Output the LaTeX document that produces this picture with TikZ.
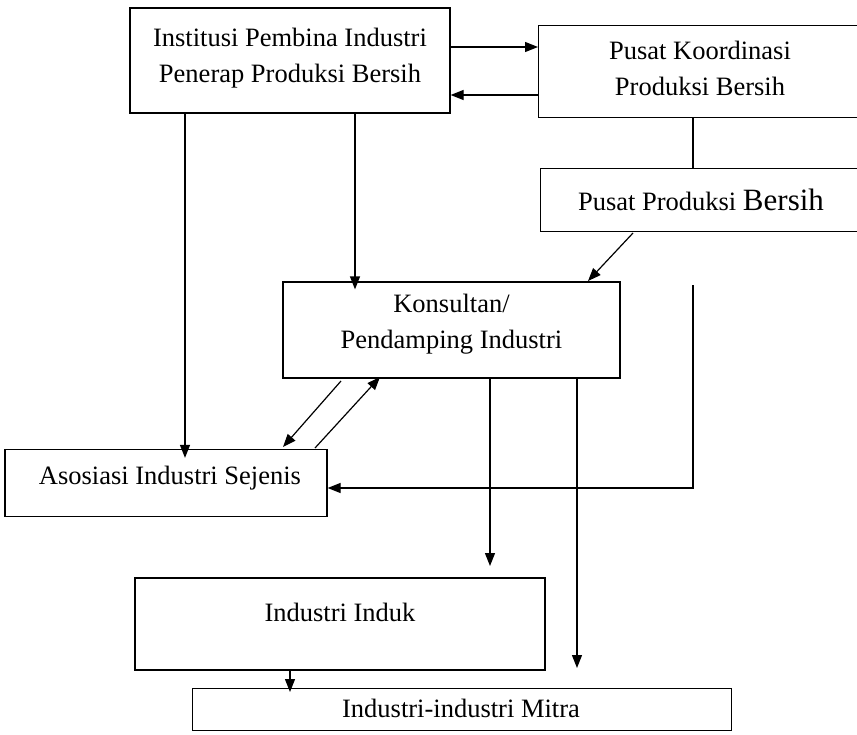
\documentclass[tikz,border=0pt]{standalone}
\usepackage{fontspec}
\setmainfont{Liberation Serif}
\usetikzlibrary{arrows.meta}
\begin{document}
\begin{tikzpicture}[x=1pt,y=-1pt,
  box/.style={draw,line width=1.2pt,inner sep=0pt},
  txt/.style={inner sep=0pt,align=center,font=\fontsize{26.5}{36}\selectfont},
  conn/.style={line width=1.2pt},
  arr/.style={conn,-{Triangle[length=13pt,width=10pt]}}]
\useasboundingbox (0,0) rectangle (857,734);
\node[box,minimum width=320,minimum height=105] (inst) at (290,60.5) {};
\node[txt] (inst-t) at (290,58) {Institusi Pembina Industri\\Penerap Produksi Bersih};
\node[box,minimum width=330,minimum height=92,anchor=north west] (pkp) at (538,25) {};
\node[txt] (pkp-t) at (700,68) {Pusat Koordinasi\\Produksi Bersih};
\node[box,minimum width=330,minimum height=63,anchor=north west] (ppb) at (540,168) {};
\node[txt] (ppb-t) at (701,200) {Pusat Produksi {\fontsize{31}{34}\selectfont Bersih}};
\node[box,minimum width=337,minimum height=96] (kons) at (451.5,330) {};
\node[txt] (kons-t) at (451.5,324) {Konsultan/\\Pendamping Industri};
\node[box,minimum width=322,minimum height=67] (asos) at (166,483) {};
\node[txt] (asos-t) at (170,478) {Asosiasi Industri Sejenis};
\node[box,minimum width=410,minimum height=92] (induk) at (340,624) {};
\node[txt] (induk-t) at (340,612) {Industri Induk};
\node[box,minimum width=539,minimum height=42,anchor=north west] (mitra) at (192,688) {};
\node[txt] (mitra-t) at (461,708) {Industri-industri Mitra};
% top arrows
\draw[arr] (inst.east |- 0,47) -- (pkp.west |- 0,47);
\draw[arr] (pkp.west |- 0,95) -- (inst.east |- 0,95);
% pusat koordinasi to pusat produksi
\draw[conn] (pkp.south -| 693,0) -- (ppb.north -| 693,0);
% inst down
\draw[arr] (inst.south -| 355,0) -- ([yshift=-8pt]kons.north -| 355,0);
\draw[arr] (inst.south -| 185,0) -- ([yshift=-9pt]asos.north -| 185,0);
% ppb to kons
\coordinate (ppbs) at (633,233);
\draw[arr] (ppbs) -- (588,281);
% feedback to asosiasi
\coordinate (fb1) at (693,285);
\coordinate (fb2) at (693,488);
\draw[arr] (fb1) -- (fb2) -- (asos.east |- fb2);
% diagonals
\coordinate (d1) at (341,381);
\coordinate (d2) at (315,448);
\draw[arr] (d1) -- (283,447);
\draw[arr] (d2) -- (380,377);
% kons down
\draw[arr] (kons.south -| 490,0) -- (490,566);
\draw[arr] (kons.south -| 577,0) -- (577,668);
% induk to mitra
\draw[arr] (induk.south -| 290,0) -- ([yshift=-4pt]mitra.north -| 290,0);
\end{tikzpicture}
\end{document}
